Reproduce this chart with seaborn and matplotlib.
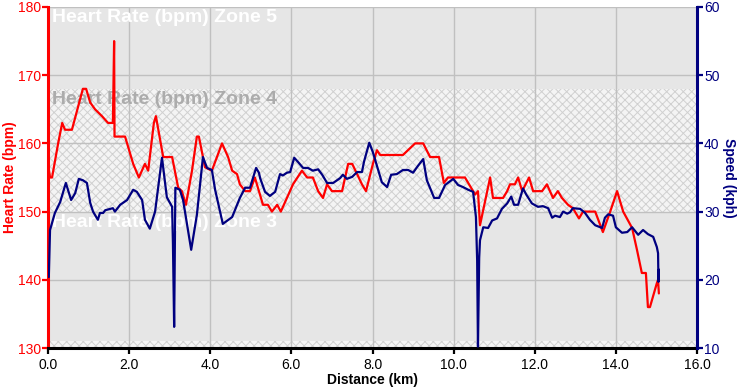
import matplotlib
matplotlib.use("Agg")
import matplotlib.pyplot as plt
import seaborn as sns

# Frequência cardíaca (bpm) por distância (km)
hr_km = [0.00, 0.05, 0.10, 0.25, 0.35, 0.42, 0.59, 0.86, 0.94, 1.04, 1.16, 1.33, 1.48, 1.60,
         1.63, 1.64, 1.70, 1.90, 2.10, 2.24, 2.39, 2.47, 2.61, 2.66, 2.84, 3.06, 3.21, 3.30,
         3.40, 3.55, 3.67, 3.72, 3.87, 4.04, 4.29, 4.44, 4.54, 4.66, 4.73, 4.86, 4.98, 5.10,
         5.20, 5.30, 5.42, 5.52, 5.65, 5.74, 5.89, 6.04, 6.26, 6.39, 6.53, 6.66, 6.78, 6.88,
         7.00, 7.25, 7.40, 7.50, 7.62, 7.74, 7.84, 8.01, 8.11, 8.19, 8.75, 9.05, 9.25, 9.42,
         9.64, 9.76, 9.86, 10.28, 10.53, 10.60, 10.65, 10.90, 10.97, 11.22, 11.32, 11.39,
         11.51, 11.59, 11.69, 11.86, 11.96, 12.18, 12.30, 12.45, 12.57, 12.67, 12.82, 12.94,
         13.09, 13.19, 13.49, 13.68, 13.86, 14.03, 14.18, 14.40, 14.52, 14.64, 14.74, 14.79,
         14.84, 15.01, 15.04, 15.06]
hr_bpm = [157, 155, 155, 160, 163, 162, 162, 168, 168, 166, 165, 164, 163, 163,
          175, 161, 161, 161, 157, 155, 157, 156, 163, 164, 158, 158, 153.5, 153,
          151, 156, 161, 161, 156.5, 156, 160, 158, 156, 155.5, 154, 153, 153, 155,
          153, 151, 151, 150, 151, 150, 152, 154, 156, 155, 155, 153, 152, 154,
          153, 153, 157, 157, 155.5, 154, 153, 157, 159, 158.3, 158.3, 160, 160, 158,
          158, 154.2, 155, 155, 152.5, 153, 148, 155, 152, 152, 153, 154,
          154, 155, 153, 155, 153, 153, 154, 152, 153, 152, 151, 150.5,
          149, 150, 150, 147, 150, 153, 150, 147.6, 144.4, 141, 141, 136,
          136, 139.5, 140, 138]

# Velocidade (kph) por distância (km)
spd_km = [0.02, 0.05, 0.17, 0.30, 0.44, 0.57, 0.67, 0.76, 0.86, 0.96, 1.04, 1.11, 1.23, 1.28,
          1.36, 1.41, 1.60, 1.65, 1.78, 1.95, 2.10, 2.19, 2.32, 2.39, 2.51, 2.64, 2.81, 2.93,
          3.06, 3.08, 3.11, 3.14, 3.25, 3.33, 3.53, 3.67, 3.82, 3.92, 4.04, 4.12, 4.31, 4.54,
          4.73, 4.86, 4.98, 5.13, 5.20, 5.23, 5.35, 5.47, 5.60, 5.72, 5.79, 5.89, 5.97, 6.07,
          6.16, 6.29, 6.41, 6.53, 6.66, 6.76, 6.88, 7.03, 7.20, 7.27, 7.37, 7.50, 7.62, 7.74,
          7.79, 7.92, 8.01, 8.14, 8.23, 8.36, 8.46, 8.60, 8.75, 8.88, 9.00, 9.12, 9.25, 9.34,
          9.52, 9.64, 9.79, 9.99, 10.11, 10.23, 10.36, 10.48, 10.55, 10.58, 10.60, 10.63,
          10.65, 10.73, 10.85, 10.95, 11.07, 11.19, 11.32, 11.42, 11.49, 11.59, 11.71, 11.79,
          11.93, 12.08, 12.20, 12.33, 12.43, 12.50, 12.62, 12.70, 12.80, 12.87, 12.94, 13.12,
          13.24, 13.36, 13.49, 13.66, 13.73, 13.81, 13.93, 14.00, 14.15, 14.28, 14.40, 14.55,
          14.67, 14.79, 14.92, 15.01, 15.04, 15.05, 15.06]
spd_kph = [20.4, 27.3, 29.8, 31.4, 34.2, 31.7, 32.7, 34.8, 34.6, 34.2, 31.3, 30.0, 28.8, 29.8,
           29.8, 30.2, 30.5, 30.0, 31.0, 31.7, 33.2, 32.9, 31.7, 28.8, 27.5, 30.0, 37.9, 32.1,
           30.7, 25.4, 13.1, 33.5, 33.2, 31.7, 24.4, 29.5, 38.0, 36.4, 36.1, 33.2, 28.2, 29.2,
           32.0, 33.5, 33.5, 36.4, 35.7, 34.9, 32.9, 32.3, 32.9, 35.5, 35.3, 35.7, 35.8, 37.9,
           37.3, 36.4, 36.4, 36.0, 36.2, 35.4, 34.2, 34.2, 34.9, 35.4, 34.8, 35.1, 35.8, 35.8,
           37.3, 40.1, 38.7, 36.1, 34.3, 33.6, 35.4, 35.5, 36.1, 36.1, 35.7, 36.7, 37.7, 34.6,
           32.0, 32.0, 33.9, 34.8, 33.9, 33.6, 33.2, 32.9, 29.2, 22.9, 10.2, 23.2,
           25.8, 27.7, 27.6, 28.7, 29.0, 30.4, 31.2, 32.2, 31.0, 31.0, 33.4, 32.5,
           31.2, 30.7, 30.8, 30.5, 29.1, 29.4, 29.2, 30.0, 29.7, 29.9, 30.5, 30.4,
           29.8, 28.8, 28.0, 27.6, 29.1, 29.6, 29.4, 27.7, 26.9, 27.0, 27.7, 26.6,
           27.3, 26.7, 26.3, 24.8, 23.9, 19.7, 21.5]

# Zonas de frequência cardíaca (limites em bpm)
zonas = [("Heart Rate (bpm) Zone 5", 168, 180),
         ("Heart Rate (bpm) Zone 4", 150, 168),
         ("Heart Rate (bpm) Zone 3", 131, 150),
         ("", 130, 131)]

sns.set_theme(style="white")
plt.rcParams['font.family'] = ['Liberation Sans', 'DejaVu Sans']
plt.rcParams['hatch.linewidth'] = 0.7

VERMELHO = '#ff0000'
AZUL = '#000080'
fonte_ticks = ['Liberation Sans Narrow', 'Liberation Sans', 'DejaVu Sans']

fig = plt.figure(figsize=(7.39, 3.92), dpi=100)
ax = fig.add_axes([48 / 739, 1 - 348 / 392, 649 / 739, 341 / 392])
ax.set_facecolor('white')

# Faixas das zonas (cinza liso / hachurado)
for i, (nome, lo, hi) in enumerate(zonas):
    if i % 2 == 0:
        ax.axhspan(lo, hi, facecolor='#e6e6e6', edgecolor='none', zorder=0.1)
    else:
        ax.axhspan(lo, hi, facecolor='#f4f4f4', edgecolor='#d0d0d0', hatch='xxxx',
                   linewidth=0, zorder=0.1)
    if nome:
        cor = '#acacac' if i == 1 else 'white'
        ax.text(0.006, hi - 0.3, nome, transform=ax.get_yaxis_transform(),
                ha='left', va='top', fontsize=14, fontweight='bold', color=cor, zorder=1)

sns.lineplot(x=hr_km, y=hr_bpm, ax=ax, color=VERMELHO, linewidth=1.6,
             estimator=None, sort=False, zorder=2)

ax2 = ax.twinx()
sns.lineplot(x=spd_km, y=spd_kph, ax=ax2, color=AZUL, linewidth=1.6,
             estimator=None, sort=False, zorder=2)

ax.set_xlim(0, 16)
ax.set_ylim(130, 180)
ax2.set_ylim(10, 60)
ax.set_xticks(range(0, 17, 2))
ax.set_xticklabels([f"{v:.1f}" for v in range(0, 17, 2)])
ax.set_yticks(range(130, 181, 10))
ax2.set_yticks(range(10, 61, 10))

ax.set_axisbelow(True)
ax.grid(True, color='#c0c0c0', linewidth=1.0, zorder=0.5)
ax2.grid(False)

# Eixos e espinhas
for s in ['top', 'right']:
    ax.spines[s].set_visible(False)
for s in ['top', 'left', 'bottom']:
    ax2.spines[s].set_visible(False)
ax.spines['left'].set_color(VERMELHO)
ax.spines['left'].set_linewidth(2.2)
ax.spines['bottom'].set_color('black')
ax.spines['bottom'].set_linewidth(2.2)
ax2.spines['right'].set_color(AZUL)
ax2.spines['right'].set_linewidth(2.2)

ax.tick_params(axis='y', colors=VERMELHO, length=4, width=1.6, pad=1, direction='out', left=True)
ax.tick_params(axis='x', colors='black', length=4, width=1.6, pad=3, direction='out', bottom=True)
ax2.tick_params(axis='y', colors=AZUL, length=4, width=1.6, pad=1, direction='out', right=True)
for lbl in ax.get_yticklabels() + ax.get_xticklabels() + ax2.get_yticklabels():
    lbl.set_family(fonte_ticks)
    lbl.set_fontsize(10)

ax.set_xlabel('Distance (km)', fontsize=10, fontweight='bold', color='black', va='center')
ax.xaxis.set_label_coords(0.5, -0.094)
ax.set_ylabel('Heart Rate (bpm)', fontsize=10, fontweight='bold', color=VERMELHO, va='center')
ax.yaxis.set_label_coords(-0.058, 0.5)
ax2.set_ylabel('Speed (kph)', fontsize=10, fontweight='bold', color=AZUL, rotation=270, va='center')
ax2.yaxis.set_label_coords(1.049, 0.5)

fig.savefig('out.png', dpi=100, facecolor='white')
